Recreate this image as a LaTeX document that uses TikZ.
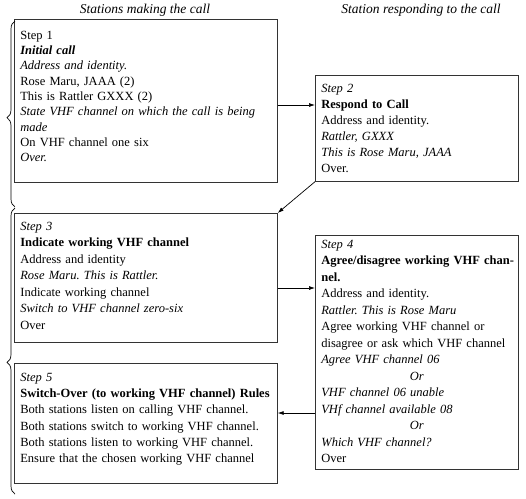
\documentclass[tikz,border=0pt]{standalone}
\usepackage{fontspec}
\setmainfont{Liberation Serif}
\usetikzlibrary{arrows.meta, decorations.pathreplacing, positioning}
\frenchspacing

\begin{document}
\begin{tikzpicture}[
    x=1pt, y=-1pt,
    stepbox/.style={rectangle, draw=black!80, line width=0.7pt, anchor=north west, align=left, inner xsep=6pt, inner ysep=4pt, font=\fontsize{12.5}{#1}\selectfont},
    stepbox/.default=16.3,
    header/.style={font=\fontsize{13.5}{16}\selectfont\itshape},
    arrow/.style={-{Latex[length=6pt,width=4pt]}, line width=0.7pt},
    brace/.style={decorate, decoration={brace, amplitude=8pt, aspect=#1}, line width=0.7pt}]

    \useasboundingbox (0,0) rectangle (526,498);

    % column headers
    \node[header] (hdrcall) at (145,10) {Stations making the call};
    \node[header] (hdrresp) at (421,10) {Station responding to the call};

    % calling station (left column)
    \node[stepbox=15.3, text width=251pt, text height=16pt, text depth=139pt] (step1) at (14,19) {Step 1\\
        \textbf{\textit{Initial call}}\\
        \textit{Address and identity.}\\
        Rose Maru, JAAA (2)\\
        This is Rattler GXXX (2)\\
        \textit{State VHF channel on which the call is being}\\
        \textit{made}\\
        On VHF channel one six\\
        \textit{Over.}};
    \node[stepbox=16.5, text width=251pt, text height=13pt, text depth=108pt] (step3) at (14,213) {\textit{Step 3}\\
        \textbf{Indicate working VHF channel}\\
        Address and identity\\
        \textit{Rose Maru. This is Rattler.}\\
        Indicate working channel\\
        \textit{Switch to VHF channel zero-six}\\
        Over};
    \node[stepbox, text width=251pt, text height=14pt, text depth=98pt] (step5) at (14,363) {\textit{Step 5}\\
        \textbf{Switch-Over (to working VHF channel) Rules}\\
        Both stations listen on calling VHF channel.\\
        Both stations switch to working VHF channel.\\
        Both stations listen to working VHF channel.\\
        Ensure that the chosen working VHF channel};

    % responding station (right column)
    \node[stepbox=16, text width=191pt, text height=13pt, text depth=85pt] (step2) at (315,75) {\textit{Step 2}\\
        \textbf{Respond to Call}\\
        Address and identity.\\
        \textit{Rattler, GXXX}\\
        \textit{This is Rose Maru, JAAA}\\
        Over.};
    \node[stepbox=16.5, text width=191pt, text height=9pt, text depth=217pt] (step4) at (315,235) {\textit{Step 4}\\
        \mbox{\textbf{Agree/disagree working VHF chan-}}\\
        \textbf{nel.}\\
        Address and identity.\\
        \textit{Rattler. This is Rose Maru}\\
        Agree working VHF channel or\\
        \mbox{disagree or ask which VHF channel}\\
        \textit{Agree VHF channel 06}\\
        \hspace*{\fill}\textit{Or}\hspace*{\fill}\null\\
        \textit{VHF channel 06 unable}\\
        \textit{VHf channel available 08}\\
        \hspace*{\fill}\textit{Or}\hspace*{\fill}\null\\
        \textit{Which VHF channel?}\\
        Over};

    % exchange arrows
    \coordinate (a12) at (0,105);
    \coordinate (a34) at (0,288);
    \coordinate (a45) at (0,413);
    \draw[arrow] (step1.east |- a12) -- (step2.west |- a12);
    \draw[arrow] (step2.south west) -- (step3.north east);
    \draw[arrow] (step3.east |- a34) -- (step4.west |- a34);
    \draw[arrow] (step4.west |- a45) -- (step5.east |- a45);

    % braces on the left
    \draw[brace=0.48] (15,207) -- (15,21);
    \draw[brace=0.46] (15,494) -- (15,208);
\end{tikzpicture}
\end{document}
